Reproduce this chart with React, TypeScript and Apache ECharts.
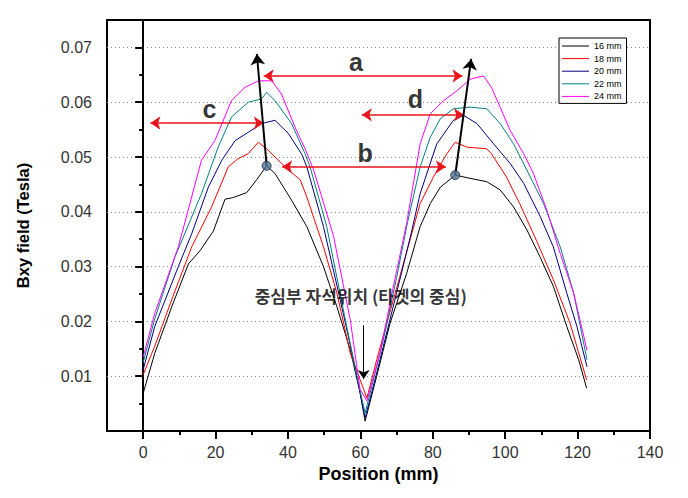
import React, { useEffect, useRef } from "react";
import * as echarts from "echarts";

// ---- data ----
const seriesNames = ["16 mm", "18 mm", "20 mm", "22 mm", "24 mm"];

const x16 = [0, 3.2, 7.9, 12.5, 15.7, 19.4, 22.6, 24.9, 28.6, 31.4, 34.1, 36.4, 41, 45.2, 49.8, 53.5, 57.2, 59.9, 61.3, 64.5, 68.2, 72.8, 76.5, 79.3, 82.1, 86.2, 90.3, 94.9, 98.6, 102.3, 106, 109.6, 113.3, 117, 120.3, 122.5];
const y16 = [0.0069, 0.0142, 0.0227, 0.0305, 0.0329, 0.0365, 0.0423, 0.0426, 0.0435, 0.0459, 0.0484, 0.047, 0.0421, 0.0373, 0.03, 0.0227, 0.0148, 0.007, 0.0018, 0.01, 0.0197, 0.0288, 0.0373, 0.0415, 0.0445, 0.0467, 0.0461, 0.0455, 0.044, 0.0409, 0.0367, 0.0318, 0.0264, 0.0191, 0.013, 0.0078];

const x18 = [0, 3.2, 7.9, 13.4, 18.9, 23.5, 26.2, 29, 31.8, 34.6, 39.2, 43.4, 45.2, 49.8, 53.5, 57.2, 59.9, 61.8, 64.5, 70.9, 76.5, 80.2, 83.9, 86.2, 89.4, 94.9, 96.2, 100.3, 104, 108.6, 113.3, 117.9, 122.5];
const y18 = [0.0103, 0.0155, 0.024, 0.0336, 0.0409, 0.0482, 0.0497, 0.0506, 0.0527, 0.0512, 0.0482, 0.0458, 0.0427, 0.0336, 0.0252, 0.0142, 0.0094, 0.006, 0.013, 0.0282, 0.0415, 0.0464, 0.0506, 0.0527, 0.0518, 0.0515, 0.0506, 0.0464, 0.0415, 0.0348, 0.0276, 0.0197, 0.0093];

const x20 = [0, 3.2, 9.7, 13.4, 18, 21.7, 25.4, 29, 32.7, 36.4, 40.1, 43.8, 45.2, 49.8, 54.4, 58.1, 61.3, 64.5, 70, 74, 76.5, 81.1, 85.7, 88.5, 92.2, 96.8, 101.4, 105.1, 109.7, 113.3, 117, 119.8, 122.6];
const y20 = [0.0112, 0.0191, 0.03, 0.036, 0.0445, 0.0494, 0.053, 0.0545, 0.0561, 0.0567, 0.0543, 0.0505, 0.0482, 0.0373, 0.024, 0.013, 0.0024, 0.0106, 0.0252, 0.036, 0.0433, 0.0524, 0.0567, 0.0576, 0.0561, 0.0524, 0.0488, 0.0452, 0.0391, 0.0336, 0.0252, 0.0191, 0.0117];

const x22 = [0, 3.2, 8.8, 16.1, 20.7, 24.4, 29, 32.7, 34.1, 36.4, 41, 44.7, 46.1, 50.7, 55.3, 59, 61.3, 66.3, 70, 73, 76.5, 79.3, 82.1, 85.7, 90.3, 94.9, 98.6, 102.3, 106, 110.6, 115.2, 118.9, 122.6];
const y22 = [0.0125, 0.0205, 0.0318, 0.0433, 0.0518, 0.0573, 0.06, 0.0606, 0.0618, 0.0603, 0.0561, 0.0506, 0.0482, 0.0373, 0.0221, 0.01, 0.0033, 0.0165, 0.028, 0.038, 0.0482, 0.0536, 0.057, 0.0588, 0.0591, 0.0588, 0.0561, 0.0524, 0.0476, 0.0415, 0.0336, 0.0252, 0.013];

const x24 = [0, 3.2, 9.7, 16.1, 19.8, 24.4, 28.1, 31.8, 35.5, 38.2, 41.9, 44.7, 47, 52.6, 57.2, 59.9, 61.8, 65.4, 69, 72.8, 76.5, 79.3, 83, 86.7, 90.3, 94, 96.2, 98.6, 101.4, 105.1, 107.8, 111.5, 115.2, 118.9, 121.7, 122.6];
const y24 = [0.0135, 0.0215, 0.0336, 0.0494, 0.053, 0.0603, 0.0627, 0.0639, 0.0639, 0.0615, 0.0555, 0.0515, 0.0478, 0.0355, 0.0203, 0.0076, 0.0055, 0.0142, 0.026, 0.038, 0.0524, 0.0579, 0.0603, 0.0621, 0.0642, 0.0648, 0.0627, 0.0591, 0.0548, 0.0506, 0.047, 0.0403, 0.0324, 0.0252, 0.0173, 0.0147];

const seriesX = [x16, x18, x20, x22, x24];
const seriesY = [y16, y18, y20, y22, y24];

const xMajorTicks = [0, 20, 40, 60, 80, 100, 120, 140];
const xMinorTicks = [10, 30, 50, 70, 90, 110, 130];
const yMajorTicks = [0.01, 0.02, 0.03, 0.04, 0.05, 0.06, 0.07];
const yMinorTicks = [0.005, 0.015, 0.025, 0.035, 0.045, 0.055, 0.065];

// peak markers on the 16 mm curve
const markerPoints = [
  [34.1, 0.0484],
  [86.2, 0.0467],
];
// black arrows from the markers
const blackArrows = [
  [[34.1, 0.0484], [31.4, 0.0688]],
  [[86.2, 0.0467], [90.6, 0.0679]],
];
// red double arrows
const redArrows = [
  [[33.3, 0.0648], [88.2, 0.0648]],
  [[38.4, 0.0482], [83.6, 0.0482]],
  [[2.0, 0.0562], [33.3, 0.0562]],
  [[60.4, 0.0577], [88.6, 0.0577]],
];
const letterLabels = ["a", "b", "c", "d"];
const letterPos = [
  [58.8, 0.0674],
  [61.3, 0.0508],
  [18.3, 0.0588],
  [75.2, 0.0606],
];
const centerNote = "중심부 자석위치 (타겟의 중심)";
const centerNotePos = [60.1, 0.0247];
const centerArrow = [[60.9, 0.0193], [60.9, 0.0095]];

const colors = ["#000000", "#ff0000", "#000080", "#008080", "#ff00ff"];
const tickFont = "'Liberation Sans', Arial, sans-serif";
const titleFont = "'Liberation Sans', Arial, sans-serif";

export default function App() {
  const ref = useRef<HTMLDivElement>(null);
  useEffect(() => {
    if (!ref.current) return;
    const chart = echarts.init(ref.current, undefined, { renderer: "svg" });

    const lineSeries = seriesNames.map((name, i) => ({
      type: "line",
      name,
      data: seriesX[i].map((x, j) => [x, seriesY[i][j]]),
      symbol: "none",
      showSymbol: false,
      lineStyle: { width: 1, color: colors[i] },
      itemStyle: { color: colors[i] },
      xAxisIndex: 0,
      yAxisIndex: 0,
      z: 2,
    }));

    const option: any = {
      animation: false,
      backgroundColor: "#fff",
      grid: {
        left: 107,
        right: 38,
        top: 20,
        bottom: 67,
        show: true,
        borderColor: "#000",
        borderWidth: 2,
        backgroundColor: "transparent",
      },
      legend: {
        data: seriesNames,
        orient: "vertical",
        left: 559,
        top: 38,
        padding: [3, 5, 2, 3],
        itemGap: 2.6,
        itemWidth: 27,
        itemHeight: 1,
        icon: "rect",
        itemTextGap: 3,
        borderColor: "#000",
        borderWidth: 1,
        borderRadius: 0,
        backgroundColor: "#fff",
        textStyle: { fontSize: 9, lineHeight: 10, color: "#000", fontFamily: titleFont },
      },
      xAxis: [
        {
          type: "value",
          min: -10,
          max: 140,
          interval: 10,
          axisLine: { lineStyle: { color: "#000", width: 2 } },
          axisTick: { show: true, customValues: xMajorTicks, length: 8, lineStyle: { color: "#000", width: 2 } },
          axisLabel: {
            customValues: xMajorTicks,
            margin: 13,
            fontSize: 16,
            color: "#333",
            fontFamily: tickFont,
            formatter: (v: number) => String(Math.round(v)),
          },
          splitLine: { show: false },
          name: "Position (mm)",
          nameLocation: "middle",
          nameGap: 33,
          nameTextStyle: { fontSize: 18, fontWeight: "bold", color: "#000", fontFamily: titleFont },
        },
        {
          type: "value",
          min: -10,
          max: 140,
          interval: 10,
          position: "bottom",
          axisLine: { show: false },
          axisTick: { show: true, customValues: xMinorTicks, length: 4, lineStyle: { color: "#000", width: 2 } },
          axisLabel: { show: false },
          splitLine: { show: false },
        },
      ],
      yAxis: [
        {
          type: "value",
          min: 0,
          max: 0.075,
          interval: 0.01,
          axisLine: { lineStyle: { color: "#000", width: 2 } },
          axisTick: { show: true, customValues: yMajorTicks, length: 8, lineStyle: { color: "#000", width: 2 } },
          axisLabel: {
            customValues: yMajorTicks,
            margin: 15,
            fontSize: 16,
            color: "#333",
            fontFamily: tickFont,
            formatter: (v: number) => v.toFixed(2),
          },
          splitLine: { show: true, lineStyle: { color: "#888", width: 1, type: [1, 3] } },
          name: "Bxy field (Tesla)",
          nameLocation: "middle",
          nameGap: 76,
          nameRotate: 90,
          nameTextStyle: { fontSize: 16.5, fontWeight: "bold", color: "#000", fontFamily: titleFont },
        },
        {
          type: "value",
          min: 0,
          max: 0.075,
          interval: 0.01,
          position: "left",
          axisLine: { show: false },
          axisTick: { show: true, customValues: yMinorTicks, length: 4, lineStyle: { color: "#000", width: 2 } },
          axisLabel: { show: false },
          splitLine: { show: false },
        },
      ],
      series: [
        ...lineSeries,
        {
          type: "line",
          name: "redArrows",
          data: [],
          xAxisIndex: 0,
          yAxisIndex: 0,
          markLine: {
            silent: true,
            symbol: ["arrow", "arrow"],
            symbolSize: 10,
            label: { show: false },
            lineStyle: { color: "#e8141c", width: 1.6, type: "solid" },
            data: redArrows.map(([a, b]) => [{ coord: a }, { coord: b }]),
          },
          z: 4,
        },
        {
          type: "line",
          name: "blackArrows",
          data: [],
          xAxisIndex: 0,
          yAxisIndex: 0,
          markLine: {
            silent: true,
            symbol: ["none", "arrow"],
            symbolSize: 11,
            label: { show: false },
            lineStyle: { color: "#000", width: 2, type: "solid" },
            data: blackArrows.map(([a, b]) => [{ coord: a }, { coord: b }]),
          },
          z: 4,
        },
        {
          type: "line",
          name: "centerArrow",
          data: [],
          xAxisIndex: 0,
          yAxisIndex: 0,
          markLine: {
            silent: true,
            symbol: ["none", "arrow"],
            symbolSize: 9,
            label: { show: false },
            lineStyle: { color: "#000", width: 1, type: "solid" },
            data: [[{ coord: centerArrow[0] }, { coord: centerArrow[1] }]],
          },
          z: 4,
        },
        {
          type: "scatter",
          name: "markers",
          data: markerPoints,
          symbol: "circle",
          symbolSize: 9,
          itemStyle: { color: "#4f7294", borderColor: "#1c2c3c", borderWidth: 1 },
          z: 6,
        },
        {
          type: "scatter",
          name: "letters",
          data: letterLabels.map((t, i) => ({ name: t, value: letterPos[i] })),
          symbolSize: 1,
          itemStyle: { color: "rgba(0,0,0,0)" },
          label: {
            show: true,
            position: "inside",
            formatter: (p: any) => p.name,
            fontSize: 25,
            fontWeight: "bold",
            color: "#000",
            fontFamily: titleFont,
          },
          z: 7,
        },
        {
          type: "scatter",
          name: "note",
          data: [{ name: centerNote, value: centerNotePos }],
          symbolSize: 1,
          itemStyle: { color: "rgba(0,0,0,0)" },
          label: {
            show: true,
            position: "inside",
            formatter: (p: any) => p.name,
            fontSize: 17,
            fontWeight: "bold",
            color: "#000",
            fontFamily: "'Noto Sans CJK KR', sans-serif",
          },
          z: 7,
        },
      ],
    };
    chart.setOption(option);
    return () => chart.dispose();
  }, []);

  return (
    <div
      ref={ref}
      style={{ position: "fixed", left: 0, top: 0, width: 688, height: 498, background: "#fff" }}
    />
  );
}
